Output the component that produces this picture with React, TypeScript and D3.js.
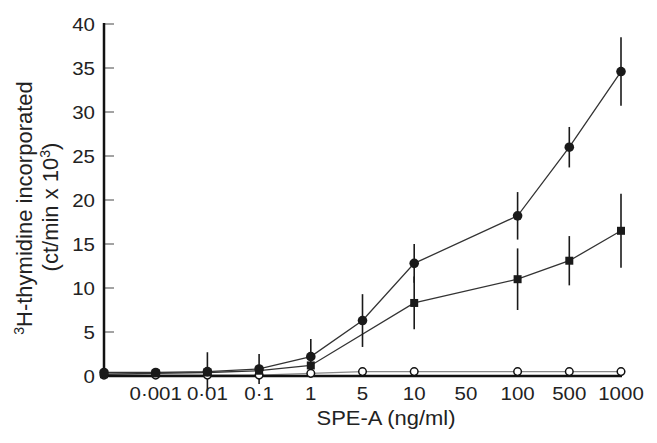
import * as d3 from 'd3';
import React from 'react';

// doses on the x axis (first one is the no-antigen control at the axis)
const doses = ['0', '0·001', '0·01', '0·1', '1', '5', '10', '50', '100', '500', '1000'];
const doseLabels = ['', '0·001', '0·01', '0·1', '1', '5', '10', '50', '100', '500', '1000'];
const yTicks = [0, 5, 10, 15, 20, 25, 30, 35, 40];

// filled circles
const circleVals = [0.4, 0.4, 0.5, 0.8, 2.2, 6.3, 12.8, null, 18.2, 26.0, 34.6];
const circleErr = [0, 0, 2.2, 1.7, 2.0, 3.0, 2.2, null, 2.7, 2.3, 3.9];
// filled squares
const squareVals = [0.2, 0.3, 0.4, 0.6, 1.2, null, 8.3, null, 11.0, 13.1, 16.5];
const squareErr = [0, 0, 0, 0, 0, null, 3.0, null, 3.5, 2.8, 4.2];
// open circles
const openVals = [0.1, 0.1, 0.1, 0.1, 0.3, 0.5, 0.5, null, 0.5, 0.5, 0.5];

const W = 657, H = 443;
const left = 104, right = 621, top = 24, bottom = 376;
const font = '"Liberation Sans", Arial, Helvetica, sans-serif';
const stretch = 1.12; // the scan's type is a little wider than it is tall

type Pt = { d: string; v: number; e: number };

const toPts = (vals: (number | null)[], errs?: (number | null)[]): Pt[] =>
  doses
    .map((d, i) => ({ d, v: vals[i] as number, e: errs ? (errs[i] ?? 0) : 0 }))
    .filter(p => p.v != null);

export default function App() {
  const x = d3.scalePoint<string>().domain(doses).range([left, right]);
  const y = d3.scaleLinear().domain([0, 40]).range([bottom, top]);

  const line = d3.line<Pt>().x(p => x(p.d)!).y(p => y(p.v));

  const circles = toPts(circleVals, circleErr);
  const squares = toPts(squareVals, squareErr);
  const opens = toPts(openVals);

  return (
    <svg width={W} height={H} style={{ position: 'absolute', left: 0, top: 0, background: '#fff' }}
      fontFamily={font}>
      {/* lines */}
      <path d={line(opens)!} fill="none" stroke="#888" strokeWidth={1.4} />
      <path d={line(squares)!} fill="none" stroke="#333" strokeWidth={1.3} />
      <path d={line(circles)!} fill="none" stroke="#333" strokeWidth={1.3} />

      {/* error bars */}
      {[...circles, ...squares].filter(p => p.e > 0).map((p, i) => (
        <line key={'e' + i} x1={x(p.d)} x2={x(p.d)} y1={y(p.v - p.e)} y2={y(p.v + p.e)}
          stroke="#1a1a1a" strokeWidth={1.6} />
      ))}

      {/* axes */}
      {yTicks.map(t => (
        <g key={'yt' + t}>
          <line x1={left} x2={left + 10} y1={y(t)} y2={y(t)} stroke="#666" strokeWidth={1.2} />
          <text transform={`translate(95,${y(t)}) scale(${stretch},1)`} dy="0.36em" textAnchor="end"
            fontSize={18.3} fill="#222">{t}</text>
        </g>
      ))}
      <line x1={left} x2={left} y1={top - 1} y2={bottom + 1.5} stroke="#111" strokeWidth={2.5} />
      <line x1={left - 1} x2={right + 1} y1={bottom} y2={bottom} stroke="#111" strokeWidth={2.5} />

      {doses.map((d, i) => (
        <text key={'xt' + d} transform={`translate(${x(d)},400) scale(${stretch},1)`} textAnchor="middle"
          fontSize={18.3} fill="#222">
          {doseLabels[i]}
        </text>
      ))}

      {/* markers */}
      {opens.map((p, i) => (
        <circle key={'o' + i} cx={x(p.d)} cy={y(p.v)} r={3.8} fill="#fff" stroke="#111" strokeWidth={1.5} />
      ))}
      {squares.map((p, i) => (
        <rect key={'s' + i} x={x(p.d)! - 4} y={y(p.v) - 4} width={8} height={8} fill="#1a1a1a" />
      ))}
      {circles.map((p, i) => (
        <circle key={'c' + i} cx={x(p.d)} cy={y(p.v)} r={4.8} fill="#1a1a1a" />
      ))}

      {/* axis titles */}
      <text transform={`translate(386,425) scale(${stretch},1)`} textAnchor="middle" fontSize={19.6}
        fill="#222">SPE-A (ng/ml)</text>
      <text transform="translate(31.5,208) rotate(-90)" textAnchor="middle" fontSize={22} fill="#222">
        <tspan fontSize={14} dy="-8">3</tspan>
        <tspan dy="8">H-thymidine incorporated</tspan>
      </text>
      <text transform="translate(58,207) rotate(-90)" textAnchor="middle" fontSize={22} fill="#222">
        (ct/min x 10<tspan fontSize={14} dy="-8">3</tspan><tspan dy="8">)</tspan>
      </text>
    </svg>
  );
}
